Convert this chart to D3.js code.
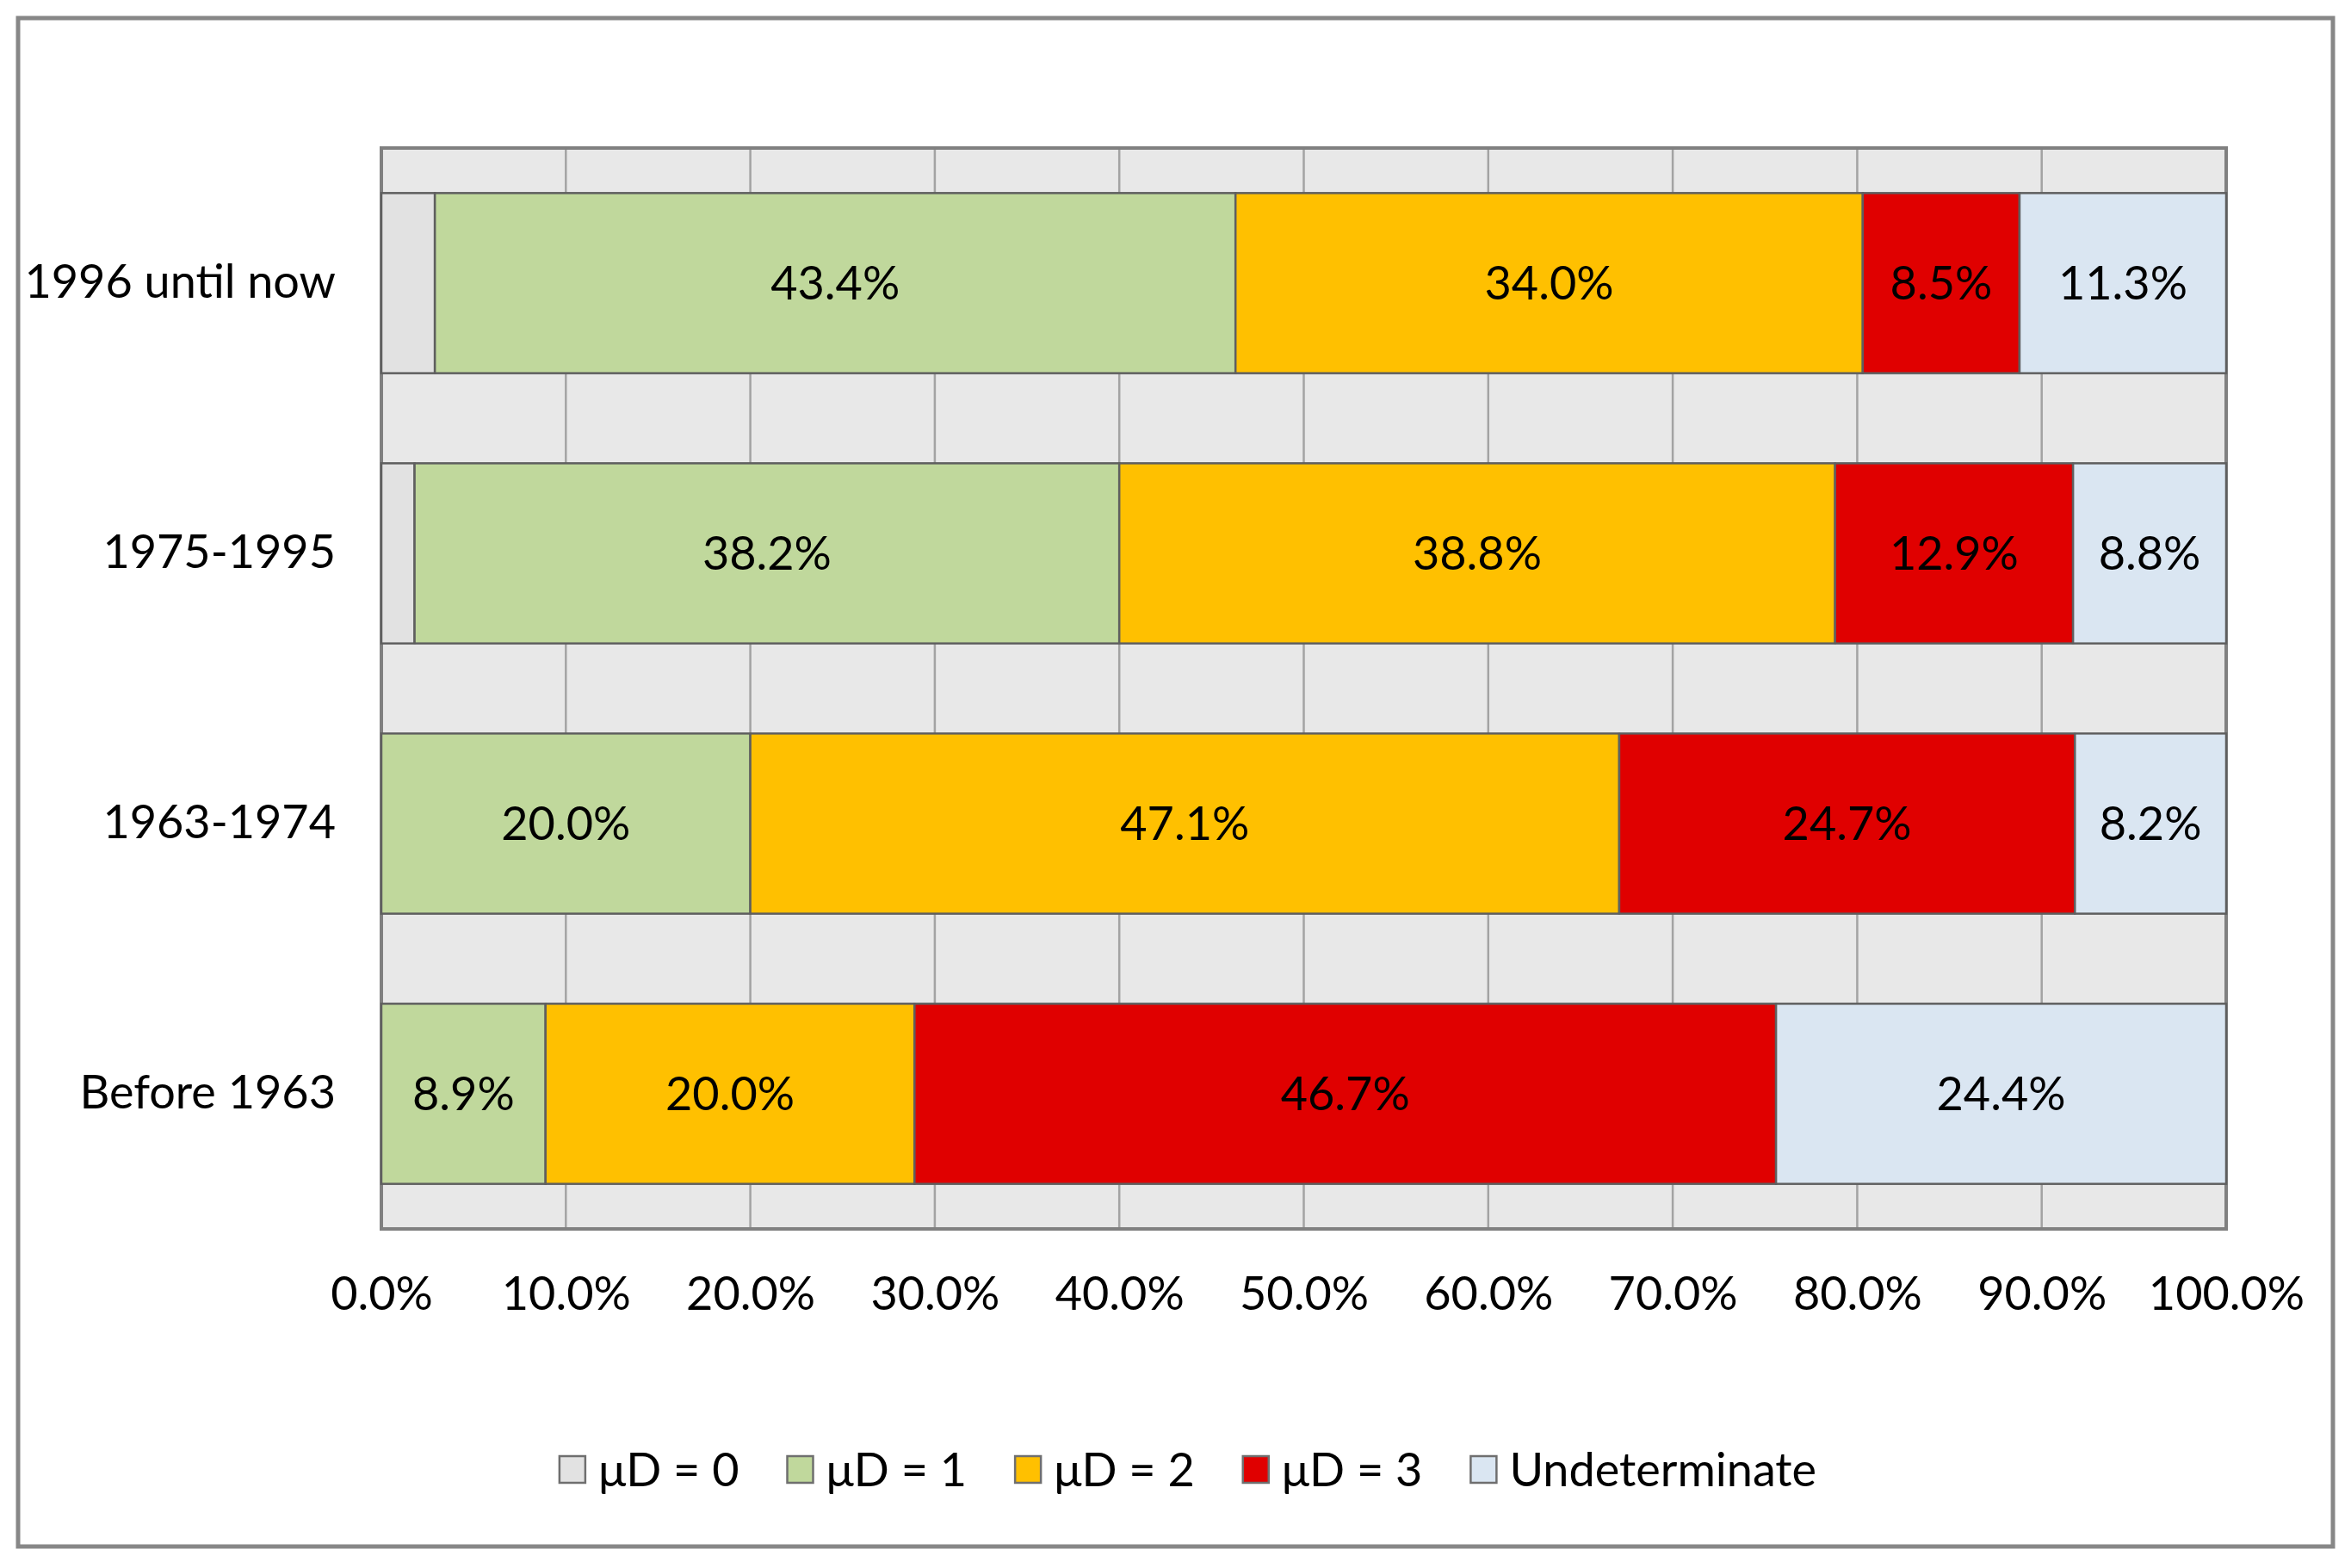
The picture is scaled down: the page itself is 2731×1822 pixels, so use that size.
<!DOCTYPE HTML>
<html>
	<head>
		<meta http-equiv="content-type" content="text/html; charset=utf-8">
		<title>Chart</title>
		<script src="https://d3js.org/d3.v7.min.js"></script>
		<style>
			body { margin: 0; background: #fff; }
			svg text { font-family: Lato, "Open Sans", sans-serif; fill: #000; }
		</style>
	</head>
	<body>
		<svg width="2731" height="1822"></svg>
		<script type="text/javascript" charset="utf-8">
var categories = ["1996 until now", "1975-1995", "1963-1974", "Before 1963"];
var seriesNames = ["μD = 0", "μD = 1", "μD = 2", "μD = 3", "Undeterminate"];
var mu0 = [2.9, 1.8, 0, 0];
var mu1 = [43.4, 38.2, 20.0, 8.9];
var mu2 = [34.0, 38.8, 47.1, 20.0];
var mu3 = [8.5, 12.9, 24.7, 46.7];
var undet = [11.3, 8.8, 8.2, 24.4];
var xTicks = [0, 10, 20, 30, 40, 50, 60, 70, 80, 90, 100];

var colors = ["#e2e2e2", "#c0d89c", "#ffc000", "#e00000", "#dae6f2"];

var svg = d3.select("svg"),
	margin = {top: 172, right: 145, bottom: 394, left: 443},
	width = +svg.attr("width") - margin.left - margin.right,
	height = +svg.attr("height") - margin.top - margin.bottom;

// outer chart frame
svg.append("rect")
	.attr("x", 21).attr("y", 21)
	.attr("width", 2689).attr("height", 1776)
	.attr("fill", "#fff")
	.attr("stroke", "#878787")
	.attr("stroke-width", 5);

var table = categories.map(function(c, i) {
	return {cat: c, s0: mu0[i], s1: mu1[i], s2: mu2[i], s3: mu3[i], s4: undet[i]};
});
var keys = ["s0", "s1", "s2", "s3", "s4"];
var stacked = d3.stack().keys(keys)(table);

var x = d3.scaleLinear().domain([0, 100]).range([0, width]).clamp(true),
	y = d3.scaleBand().domain(categories).range([0, height]).paddingInner(1/3).paddingOuter(1/6);

var g = svg.append("g")
	.attr("transform", "translate(" + margin.left + "," + margin.top + ")");

// plot area background
g.append("rect")
	.attr("width", width).attr("height", height)
	.attr("fill", "#e8e8e8");

g.selectAll(".grid")
	.data(xTicks.slice(1))
	.enter().append("line")
	.attr("class", "grid")
	.attr("x1", function(d) { return x(d); })
	.attr("x2", function(d) { return x(d); })
	.attr("y1", 0).attr("y2", height)
	.attr("stroke", "#a3a3a3")
	.attr("stroke-width", 2.5);

// plot border
g.append("rect")
	.attr("width", width).attr("height", height)
	.attr("fill", "none")
	.attr("stroke", "#808080")
	.attr("stroke-width", 4);

var layer = g.selectAll(".layer")
	.data(stacked)
	.enter().append("g")
	.attr("class", "layer")
	.attr("fill", function(d, i) { return colors[i]; });

layer.selectAll("rect")
	.data(function(d) { return d.filter(function(p) { return p[1] - p[0] > 0; }); })
	.enter().append("rect")
	.attr("x", function(d) { return x(d[0]); })
	.attr("y", function(d) { return y(d.data.cat); })
	.attr("width", function(d) { return x(d[1]) - x(d[0]); })
	.attr("height", y.bandwidth())
	.attr("stroke", "#5f5f5f")
	.attr("stroke-width", 2.5);

// data labels (none on the thin μD = 0 slices)
layer.filter(function(d, i) { return i > 0; })
	.selectAll("text")
	.data(function(d) { return d.filter(function(p) { return p[1] - p[0] > 0; }); })
	.enter().append("text")
	.attr("x", function(d) { return (x(d[0]) + x(d[1])) / 2; })
	.attr("y", function(d) { return y(d.data.cat) + y.bandwidth() / 2; })
	.attr("dy", "0.36em")
	.attr("text-anchor", "middle")
	.style("font-size", "54px")
	.text(function(d) { return (d[1] - d[0]).toFixed(1) + "%"; });

var xAxis = g.append("g")
	.attr("transform", "translate(0," + height + ")")
	.call(d3.axisBottom(x).tickValues(xTicks).tickSize(0).tickPadding(56)
		.tickFormat(function(d) { return d.toFixed(1) + "%"; }));
xAxis.select(".domain").remove();
xAxis.selectAll("text").style("font-size", "54px").attr("fill", "#000");

var yAxis = g.append("g")
	.call(d3.axisLeft(y).tickSize(0).tickPadding(53));
yAxis.select(".domain").remove();
yAxis.selectAll("text").style("font-size", "54px").attr("fill", "#000");

// legend
var legend = svg.append("g");
var lx = 0, gap = 56;
seriesNames.forEach(function(name, i) {
	var item = legend.append("g").attr("transform", "translate(" + lx + ",0)");
	item.append("rect")
		.attr("x", 0).attr("y", -16)
		.attr("width", 30).attr("height", 31)
		.attr("fill", colors[i])
		.attr("stroke", "#6f6f6f")
		.attr("stroke-width", 2.5);
	var t = item.append("text")
		.attr("x", 45).attr("dy", "0.36em")
		.style("font-size", "54px")
		.text(name);
	lx += 45 + t.node().getComputedTextLength() + gap;
});
lx -= gap;
legend.attr("transform", "translate(" + (1380 - lx / 2) + ",1708)");
		</script>
	</body>
</html>
